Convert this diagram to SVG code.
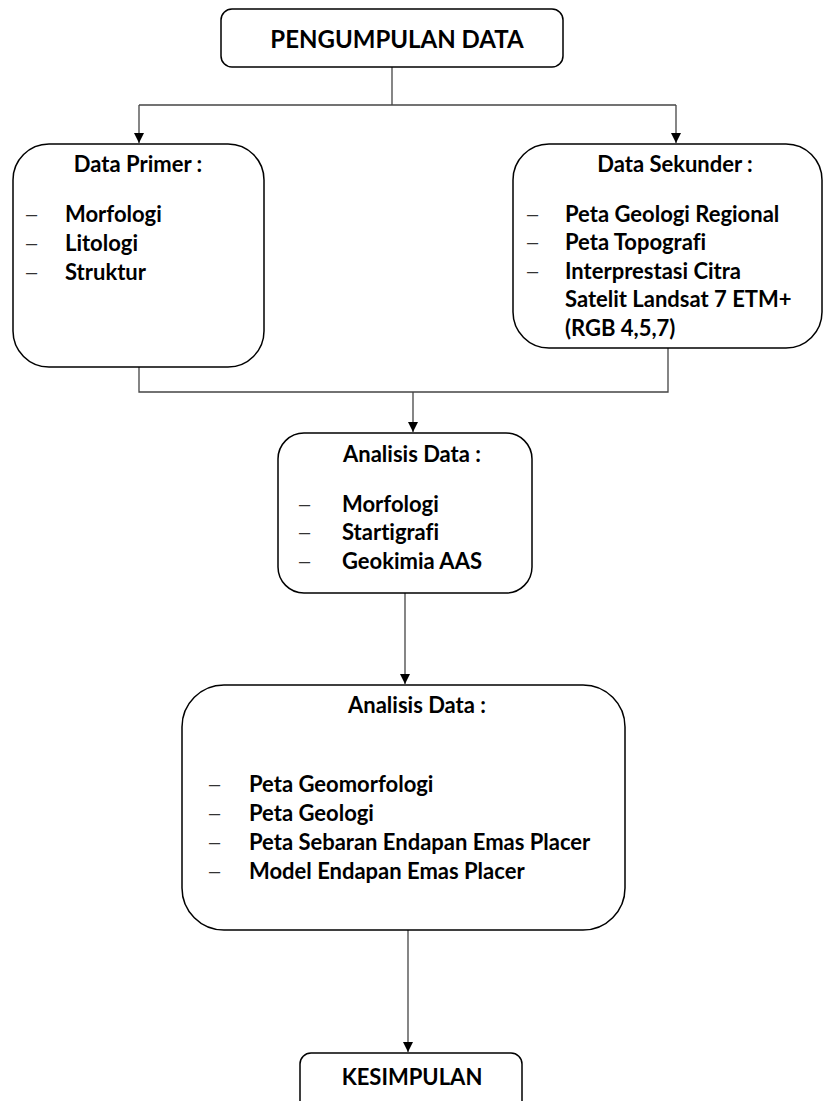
<svg xmlns="http://www.w3.org/2000/svg" width="823" height="1101" viewBox="0 0 823 1101">
<defs>
<marker id="ah" viewBox="0 0 10 10" refX="10" refY="5" markerWidth="10" markerHeight="10" markerUnits="userSpaceOnUse" orient="auto">
<path d="M0,0 L10,5 L0,10 z" fill="#000"/>
</marker>
<style>
.box{fill:#fff;stroke:#000;stroke-width:1.5}
.t{font-family:Lato,"Liberation Sans",sans-serif;font-weight:bold;font-size:22px;fill:#000;font-variant-ligatures:none}
.h{font-family:Lato,"Liberation Sans",sans-serif;font-weight:bold;font-size:24px;fill:#000}
.d{font-family:"Liberation Sans",sans-serif;font-size:20px;fill:#333}
.c{fill:none;stroke:#444;stroke-width:1.3}
</style>
</defs>
<rect width="823" height="1101" fill="#fff"/>
<g id="connectors">
<path class="c" d="M392,67 V105"/>
<path class="c" d="M139,105 H676"/>
<path class="c" d="M139,105 V143" marker-end="url(#ah)"/>
<path class="c" d="M676,105 V143" marker-end="url(#ah)"/>
<path class="c" d="M139,367 V392 H668 V348"/>
<path class="c" d="M413,392 V432" marker-end="url(#ah)"/>
<path class="c" d="M405,593 V684" marker-end="url(#ah)"/>
<path class="c" d="M408,930 V1052" marker-end="url(#ah)"/>
</g>
<g id="pengumpulan">
<rect class="box" x="221" y="9" width="342" height="58" rx="11"/>
<text class="h" x="397" y="48" text-anchor="middle">PENGUMPULAN DATA</text>
</g>
<g id="primer">
<rect class="box" x="13" y="144" width="251" height="223" rx="36"/>
<text class="t" x="138" y="172" text-anchor="middle">Data Primer :</text>
<text class="d" x="26" y="221">–</text><text class="t" x="65" y="222">Morfologi</text>
<text class="d" x="26" y="250">–</text><text class="t" x="65" y="251">Litologi</text>
<text class="d" x="26" y="279">–</text><text class="t" x="65" y="280">Struktur</text>
</g>
<g id="sekunder">
<rect class="box" x="513" y="144" width="309" height="204" rx="36"/>
<text class="t" x="675" y="172" text-anchor="middle">Data Sekunder :</text>
<text class="d" x="527" y="221">–</text><text class="t" x="565" y="222">Peta Geologi Regional</text>
<text class="d" x="527" y="249">–</text><text class="t" x="565" y="250">Peta Topografi</text>
<text class="d" x="527" y="278">–</text><text class="t" x="565" y="279">Interprestasi Citra</text>
<text class="t" x="565" y="307">Satelit Landsat 7 ETM+</text>
<text class="t" x="565" y="336">(RGB 4,5,7)</text>
</g>
<g id="analisis1">
<rect class="box" x="278" y="433" width="254" height="160" rx="26"/>
<text class="t" x="412" y="462" text-anchor="middle">Analisis Data :</text>
<text class="d" x="299" y="511">–</text><text class="t" x="342" y="512">Morfologi</text>
<text class="d" x="299" y="539">–</text><text class="t" x="342" y="540">Startigrafi</text>
<text class="d" x="299" y="568">–</text><text class="t" x="342" y="569">Geokimia AAS</text>
</g>
<g id="analisis2">
<rect class="box" x="182" y="685" width="443" height="245" rx="42"/>
<text class="t" x="417" y="713" text-anchor="middle">Analisis Data :</text>
<text class="d" x="209" y="791">–</text><text class="t" x="249" y="792">Peta Geomorfologi</text>
<text class="d" x="209" y="820">–</text><text class="t" x="249" y="821">Peta Geologi</text>
<text class="d" x="209" y="849">–</text><text class="t" x="249" y="850">Peta Sebaran Endapan Emas Placer</text>
<text class="d" x="209" y="878">–</text><text class="t" x="249" y="879">Model Endapan Emas Placer</text>
</g>
<g id="kesimpulan">
<rect class="box" x="300" y="1053" width="222" height="70" rx="11"/>
<text class="t" x="412" y="1085" text-anchor="middle">KESIMPULAN</text>
</g>
</svg>
